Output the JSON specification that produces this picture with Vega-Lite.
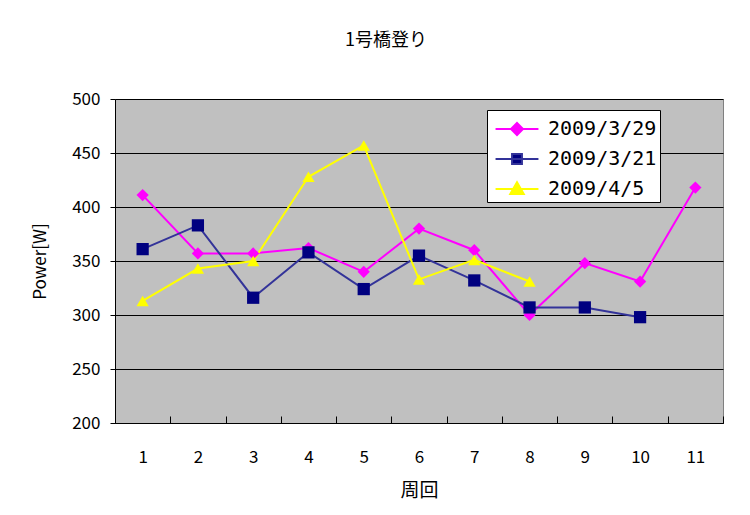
{
  "$schema": "https://vega.github.io/schema/vega-lite/v6.json",
  "width": 608,
  "height": 324,
  "autosize": "none",
  "padding": {"left": 115, "top": 99, "right": 27, "bottom": 92},
  "background": "white",
  "config": {
    "font": "Noto Sans CJK JP",
    "view": {"fill": "#C0C0C0", "stroke": "#808080", "strokeWidth": 1}
  },
  "title": {"text": "1号橋登り", "fontSize": 18, "font": "Noto Sans CJK JP", "fontWeight": "normal", "offset": 40, "dx": -33, "anchor": "middle", "color": "black"},
  "data": {"values": [
    {"lap": 1, "date": "2009/3/29", "power": 411},
    {"lap": 2, "date": "2009/3/29", "power": 357},
    {"lap": 3, "date": "2009/3/29", "power": 357},
    {"lap": 4, "date": "2009/3/29", "power": 362},
    {"lap": 5, "date": "2009/3/29", "power": 340},
    {"lap": 6, "date": "2009/3/29", "power": 380},
    {"lap": 7, "date": "2009/3/29", "power": 360},
    {"lap": 8, "date": "2009/3/29", "power": 300},
    {"lap": 9, "date": "2009/3/29", "power": 348},
    {"lap": 10, "date": "2009/3/29", "power": 331},
    {"lap": 11, "date": "2009/3/29", "power": 418},
    {"lap": 1, "date": "2009/3/21", "power": 361},
    {"lap": 2, "date": "2009/3/21", "power": 383},
    {"lap": 3, "date": "2009/3/21", "power": 316},
    {"lap": 4, "date": "2009/3/21", "power": 358},
    {"lap": 5, "date": "2009/3/21", "power": 324},
    {"lap": 6, "date": "2009/3/21", "power": 355},
    {"lap": 7, "date": "2009/3/21", "power": 332},
    {"lap": 8, "date": "2009/3/21", "power": 307},
    {"lap": 9, "date": "2009/3/21", "power": 307},
    {"lap": 10, "date": "2009/3/21", "power": 298},
    {"lap": 1, "date": "2009/4/5", "power": 313},
    {"lap": 2, "date": "2009/4/5", "power": 343},
    {"lap": 3, "date": "2009/4/5", "power": 350},
    {"lap": 4, "date": "2009/4/5", "power": 428},
    {"lap": 5, "date": "2009/4/5", "power": 457},
    {"lap": 6, "date": "2009/4/5", "power": 333},
    {"lap": 7, "date": "2009/4/5", "power": 351},
    {"lap": 8, "date": "2009/4/5", "power": 331}
  ]},
  "encoding": {
    "x": {
      "field": "lap", "type": "ordinal",
      "scale": {"type": "band", "paddingInner": 0, "paddingOuter": 0},
      "axis": {
        "title": "周回", "titleFontSize": 19, "titleFontWeight": "normal", "titleColor": "black", "titlePadding": 16,
        "labelAngle": 0, "labelFontSize": 17, "labelColor": "black", "labelPadding": 33,
        "tickBand": "extent", "tickSize": -7, "tickColor": "black", "domainColor": "black", "grid": false
      }
    },
    "y": {
      "field": "power", "type": "quantitative",
      "scale": {"domain": [200, 500], "nice": false, "zero": false},
      "axis": {
        "title": "Power[W]", "titleFontSize": 17, "titleFontWeight": "normal", "titleColor": "black", "titlePadding": 22,
        "values": [200, 250, 300, 350, 400, 450, 500],
        "labelFontSize": 17, "labelColor": "black", "labelPadding": 10,
        "tickSize": 5, "tickColor": "black", "domainColor": "black",
        "grid": true, "gridColor": "black", "gridWidth": 1
      }
    }
  },
  "layer": [
    {
      "mark": {"type": "line", "strokeWidth": 2},
      "encoding": {
        "color": {"field": "date", "type": "nominal", "legend": null,
          "scale": {"domain": ["2009/3/29", "2009/3/21", "2009/4/5"], "range": ["#FF00FF", "#333399", "#FFFF00"]}}
      }
    },
    {
      "mark": {"type": "point", "filled": true, "opacity": 1, "size": 150},
      "encoding": {
        "color": {"field": "date", "type": "nominal",
          "scale": {"domain": ["2009/3/29", "2009/3/21", "2009/4/5"], "range": ["#FF00FF", "#000080", "#FFFF00"]},
          "legend": {
            "orient": "none", "legendX": 372, "legendY": 11, "title": null,
            "fillColor": "white", "strokeColor": "black", "padding": 3,
            "labelFont": "DejaVu Sans Mono", "labelFontSize": 20, "labelColor": "black",
            "symbolSize": 900, "rowPadding": 4, "labelOffset": 15, "symbolOffset": 11,
            "symbolType": {"expr": "datum.value === '2009/3/29' ? 'M-1.43,0H1.43M0,-0.4L0.4,0L0,0.4L-0.4,0Z' : datum.value === '2009/3/21' ? 'M-1.43,0H1.43M-0.33,-0.33H0.33V0.33H-0.33Z' : 'M-1.43,0H1.43M0,-0.45L0.45,0.33H-0.45Z'"},
            "symbolStrokeColor": {"expr": "datum.value === '2009/3/29' ? '#FF00FF' : datum.value === '2009/3/21' ? '#333399' : '#FFFF00'"},
            "symbolStrokeWidth": 2,
            "symbolOpacity": 1
          }},
        "shape": {"field": "date", "type": "nominal", "legend": null,
          "scale": {"domain": ["2009/3/29", "2009/3/21", "2009/4/5"], "range": ["diamond", "square", "triangle-up"]}}
      }
    }
  ],
  "resolve": {"scale": {"color": "independent"}}
}
